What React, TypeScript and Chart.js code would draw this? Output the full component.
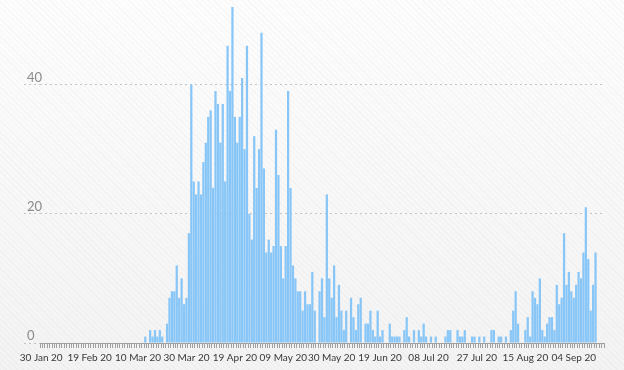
import { useEffect, useRef } from "react";
import { Chart, registerables } from "chart.js";

Chart.register(...registerables);

// Tick labels shown every 20 days on the x axis
const tickLabels = [
  "30 Jan 20", "19 Feb 20", "10 Mar 20", "30 Mar 20", "19 Apr 20", "09 May 20",
  "30 May 20", "19 Jun 20", "08 Jul 20", "27 Jul 20", "15 Aug 20", "04 Sep 20",
];
const TICK_EVERY = 20;

// Daily values, one per day starting 30 Jan 20
const dailyValues = [
  0, 0, 0, 0, 0, 0, 0, 0, 0, 0,
  0, 0, 0, 0, 0, 0, 0, 0, 0, 0,
  0, 0, 0, 0, 0, 0, 0, 0, 0, 0,
  0, 0, 0, 0, 0, 0, 0, 0, 0, 0,
  0, 0, 0, 1, 0, 2, 1, 2, 1, 2,
  1, 0, 3, 7, 8, 8, 12, 7, 10, 6,
  7, 17, 40, 25, 23, 25, 23, 28, 31, 35,
  36, 24, 39, 37, 31, 37, 25, 46, 39, 52,
  35, 31, 35, 41, 30, 46, 20, 16, 32, 24,
  30, 48, 27, 14, 16, 14, 15, 33, 26, 15,
  10, 15, 39, 24, 12, 10, 8, 8, 5, 8,
  6, 6, 11, 5, 0, 8, 10, 4, 23, 10,
  7, 12, 4, 9, 5, 2, 5, 0, 7, 4,
  2, 6, 7, 0, 3, 3, 5, 2, 1, 5,
  1, 2, 0, 0, 3, 1, 1, 1, 1, 0,
  2, 4, 1, 0, 2, 0, 2, 1, 3, 1,
  0, 1, 0, 1, 0, 0, 0, 1, 2, 2,
  0, 0, 2, 1, 1, 2, 0, 0, 1, 1,
  0, 1, 0, 1, 0, 0, 2, 2, 0, 1,
  1, 0, 1, 0, 2, 5, 8, 3, 0, 0,
  2, 4, 1, 8, 7, 6, 10, 2, 1, 3,
  4, 4, 2, 9, 6, 7, 17, 9, 11, 8,
  7, 9, 11, 10, 14, 21, 13, 5, 9, 14,
  0, 0, 0,
];

const yTickValues = [0, 20, 40];
const Y_MAX = 52;

const yLabelPlugin = {
  id: "yLabelsAbove",
  afterDraw(chart: any) {
    const ys = chart.scales.y;
    const ctx = chart.ctx;
    ctx.save();
    ctx.font = "13px Lato";
    ctx.fillStyle = "#8a8a8a";
    ctx.textAlign = "left";
    ctx.textBaseline = "alphabetic";
    for (const v of yTickValues) {
      ctx.fillText(String(v), 27, ys.getPixelForValue(v) - 3);
    }
    ctx.restore();
  },
};

export default function App() {
  const ref = useRef<HTMLCanvasElement | null>(null);

  useEffect(() => {
    if (!ref.current) return;
    const labels = dailyValues.map((_, i) => String(i));
    const chart = new Chart(ref.current, {
      type: "bar",
      data: {
        labels,
        datasets: [
          {
            data: dailyValues,
            backgroundColor: "#88c6f7",
            borderWidth: 0,
            barPercentage: 1,
            categoryPercentage: 0.93,
          },
        ],
      },
      options: {
        animation: false,
        responsive: false,
        devicePixelRatio: 1,
        layout: { padding: { left: 24, right: 20, top: 7, bottom: 2 } },
        plugins: { legend: { display: false }, tooltip: { enabled: false } },
        scales: {
          x: {
            offset: true,
            grid: {
              display: true,
              drawOnChartArea: false,
              drawTicks: true,
              tickLength: 5,
              color: "#a0a0a0",
              offset: true,
            },
            border: { display: true, color: "#a0a0a0" },
            ticks: {
              autoSkip: false,
              maxRotation: 0,
              minRotation: 0,
              padding: 4,
              color: "#383838",
              font: { family: "Lato", size: 10 },
              callback: (_v: any, i: number) =>
                i % TICK_EVERY === 0 ? tickLabels[i / TICK_EVERY] ?? "" : "",
            },
          },
          y: {
            min: 0,
            max: Y_MAX,
            afterBuildTicks: (scale: any) => {
              scale.ticks = yTickValues.map((v) => ({ value: v }));
            },
            ticks: { display: false },
            grid: {
              display: true,
              drawTicks: true,
              tickLength: 16,
              color: "#c4c4c4",
              tickColor: "#c4c4c4",
              tickBorderDash: [2, 3],
            },
            border: { display: false, dash: [2, 3] },
          },
        },
      },
      plugins: [yLabelPlugin],
    });
    return () => chart.destroy();
  }, []);

  return (
    <div
      style={{
        position: "fixed",
        left: 0,
        top: 0,
        width: 624,
        height: 370,
        background:
          "repeating-linear-gradient(45deg, rgba(0,0,0,0.022) 0px, rgba(0,0,0,0.022) 1px, rgba(0,0,0,0) 1px, rgba(0,0,0,0) 4px), linear-gradient(180deg, #fdfdfd 0%, #f3f3f3 100%)",
      }}
    >
      <canvas ref={ref} width={624} height={370} style={{ display: "block" }} />
    </div>
  );
}
